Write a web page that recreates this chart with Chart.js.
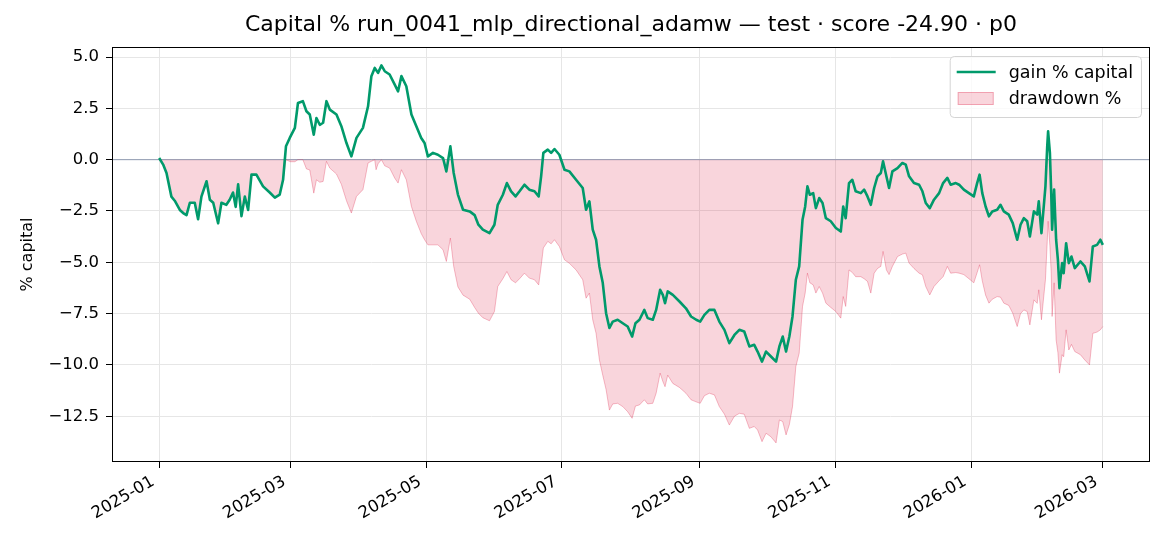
<!DOCTYPE html>
<html>
<head>
<meta charset="utf-8">
<title>Capital % run_0041_mlp_directional_adamw</title>
<script src="https://cdn.jsdelivr.net/npm/chart.js@4.4.1/dist/chart.umd.min.js"></script>
<style>
    html, body { margin: 0; padding: 0; background: #fff; }
    #wrap { width: 1170px; height: 546px; }
</style>
</head>
<body>
<div id="wrap"><canvas id="capitalChart" width="1170" height="546"></canvas></div>
<script>
// Days counted from 2025-01-01 (test period start)
const gainDay = [
    0, 1.8, 3.3, 5.5, 7, 9.3, 10.8, 12.3, 13.8, 16, 17.5, 19, 21.3, 22.8, 24.3, 26.5, 28, 30.2, 31.7, 33.2,
    34.4, 35.5, 37, 38.5, 40, 41.5, 43.7, 46.7, 49.7, 52, 54.2, 55.7, 57, 58.7, 61, 62.4, 64.6, 66.2, 67.7, 69.5,
    70.7, 72.2, 73.7, 75.2, 76.7, 79.7, 81.9, 84.2, 86.4, 88.7, 91.6, 93.9, 95.4, 96.9, 98.4, 99.9, 101.4, 103.6, 105.9, 107.4,
    108.9, 111.1, 113.4, 115.6, 117.8, 119.3, 120.8, 123.1, 125.3, 127.6, 129.1, 130.9, 132.4, 134.3, 136.6, 139.6, 141.8, 143.5, 145.5, 148.5,
    150.7, 152.2, 154.5, 156.3, 158.2, 160.2, 162, 164.2, 166.4, 168.7, 170.6, 171.7, 172.7, 174.7, 176.2, 177.7, 179.9, 182.2, 184.4, 187.4,
    190.4, 191.9, 193.4, 194.9, 196.4, 197.9, 199.4, 200.9, 202.4, 203.9, 206.1, 208.4, 210.6, 212.6, 214.1, 215.9, 218.1, 219.6, 221.9, 223.4,
    225.2, 226.4, 227.4, 228.6, 230.9, 233.9, 236.8, 239.1, 241.4, 243.2, 245.1, 247.3, 249.6, 251.8, 254.1, 256.3, 258.6, 260.8, 263, 265.3,
    267.5, 269, 271, 272.8, 275, 277.3, 278.8, 280.3, 281.8, 283.3, 284.7, 286.2, 287.7, 289.2, 290.4, 291.4, 292.5, 294, 295.2, 296.7,
    298.2, 299.7, 301.9, 304.2, 306.4, 307.5, 308.6, 310.1, 311.6, 313.1, 315.4, 316.9, 318.4, 319.9, 321.4, 322.9, 324.4, 325.4, 326.9, 328.1,
    329.6, 331.9, 334.1, 335.6, 337.1, 339.3, 341.6, 343.1, 344.6, 346.4, 348.3, 350.6, 352.4, 354.3, 355.8, 358.1, 359.6, 361.7, 364, 366.2,
    367.7, 368.8, 370, 371.5, 373, 374.5, 376.7, 378.2, 379.7, 381.9, 383.7, 385.7, 387.2, 388.7, 390.2, 391.4, 393.2, 394.7, 395.4, 396.6,
    397.7, 398.4, 399.2, 399.6, 400.4, 401, 401.4, 402.3, 403.2, 404, 404.7, 405.9, 406.6, 407.7, 408.9, 410.1, 411.6, 414.1, 416.1, 418.2,
    419.7, 421.6, 423.1, 424.2
];
const gainPct = [
    0.08, -0.24, -0.65, -1.8, -2.0, -2.45, -2.6, -2.7, -2.1, -2.1, -2.9, -1.8, -1.05, -1.95, -2.1, -3.1, -2.1, -2.2, -1.95, -1.6,
    -2.3, -1.2, -2.75, -1.8, -2.45, -0.73, -0.73, -1.3, -1.6, -1.85, -1.7, -0.98, 0.65, 1.06, 1.55, 2.76, 2.85, 2.36, 2.2, 1.22,
    2.03, 1.7, 1.8, 2.85, 2.44, 2.2, 1.63, 0.81, 0.16, 1.06, 1.55, 2.6, 4.07, 4.47, 4.23, 4.59, 4.31, 4.15, 3.66, 3.33,
    4.07, 3.58, 2.2, 1.63, 1.06, 0.81, 0.16, 0.33, 0.24, 0.08, -0.57, 0.65, -0.65, -1.7, -2.44, -2.52, -2.7, -3.17, -3.41, -3.58,
    -3.17, -2.2, -1.71, -1.14, -1.54, -1.79, -1.54, -1.22, -1.46, -1.54, -1.79, -0.81, 0.33, 0.49, 0.33, 0.52, 0.24, -0.49, -0.57, -0.98,
    -1.38, -2.44, -2.03, -3.41, -3.9, -5.2, -6.0, -7.48, -8.2, -7.89, -7.8, -7.97, -8.13, -8.62, -7.97, -7.8, -7.32, -7.72, -7.8, -7.32,
    -6.34, -6.59, -6.99, -6.42, -6.59, -6.91, -7.24, -7.64, -7.8, -7.89, -7.56, -7.32, -7.32, -7.89, -8.29, -8.94, -8.54, -8.29, -8.37, -9.1,
    -9.02, -9.35, -9.84, -9.35, -9.59, -9.84, -9.1, -8.62, -9.35, -8.6, -7.64, -5.85, -5.2, -2.93, -2.28, -1.3, -1.71, -1.63, -2.36, -1.87,
    -2.11, -2.85, -3.0, -3.33, -3.5, -2.28, -2.85, -1.14, -0.98, -1.54, -1.63, -1.46, -1.79, -2.2, -1.38, -0.81, -0.65, -0.08, -0.81, -1.38,
    -0.57, -0.41, -0.16, -0.24, -0.81, -1.14, -1.22, -1.54, -2.11, -2.36, -1.95, -1.63, -1.14, -0.89, -1.22, -1.14, -1.22, -1.46, -1.63, -1.79,
    -1.14, -0.73, -1.63, -2.28, -2.76, -2.52, -2.44, -2.2, -2.52, -2.68, -3.09, -3.9, -3.17, -2.85, -3.0, -3.74, -2.52, -2.68, -2.03, -3.58,
    -2.2, -1.3, 0.65, 1.38, 0.33, -1.63, -3.41, -1.46, -3.9, -4.88, -6.26, -5.04, -5.53, -4.07, -5.04, -4.72, -5.28, -4.96, -5.2, -5.93,
    -4.23, -4.15, -3.9, -4.15
];
const ddDay = [
    0, 1.8, 3.3, 5.5, 7, 9.3, 10.8, 12.3, 13.8, 16, 17.5, 19, 21.3, 22.8, 24.3, 26.5, 28, 30.2, 31.7, 33.2,
    34.4, 35.5, 37, 38.5, 40, 41.5, 43.7, 46.7, 49.7, 52, 54.2, 55.7, 57, 59, 61, 62.4, 64.6, 66.2, 67.7, 69.5,
    70.7, 72.2, 73.7, 75.2, 76.7, 79.7, 81.9, 84.2, 86.4, 88.7, 91.6, 93.9, 95.4, 96.9, 97.5, 98.4, 99.9, 101.4, 103.6, 105.9,
    107.4, 108.9, 111.1, 113.4, 115.6, 117.8, 119.3, 120.8, 123.1, 125.3, 127.6, 129.1, 130.9, 132.4, 134.3, 136.6, 139.6, 141.8, 143.5, 145.5,
    148.5, 150.7, 152.2, 154.5, 156.3, 158.2, 160.2, 162, 164.2, 166.4, 168.7, 170.6, 171.7, 172.7, 174.7, 176.2, 177.7, 179.9, 182.2, 184.4,
    187.4, 190.4, 191.9, 193.4, 194.9, 196.4, 197.9, 199.4, 200.9, 202.4, 203.9, 206.1, 208.4, 210.6, 212.6, 214.1, 215.9, 218.1, 219.6, 221.9,
    223.4, 225.2, 226.4, 227.4, 228.6, 230.9, 233.9, 236.8, 239.1, 241.4, 243.2, 245.1, 247.3, 249.6, 251.8, 254.1, 256.3, 258.6, 260.8, 263,
    265.3, 267.5, 269, 271, 272.8, 275, 277.3, 278.8, 280.3, 281.8, 283.3, 284.7, 286.2, 287.7, 289.2, 290.4, 291.4, 292.5, 294, 295.2,
    296.7, 298.2, 299.7, 301.9, 304.2, 306.4, 307.5, 308.6, 310.1, 311.6, 313.1, 315.4, 316.9, 318.4, 319.9, 321.4, 322.9, 324.4, 325.4, 326.9,
    328.1, 329.6, 331.9, 334.1, 335.6, 337.1, 339.3, 341.6, 343.1, 344.6, 346.4, 348.3, 350.6, 352.4, 354.3, 355.8, 358.1, 359.6, 361.7, 364,
    366.2, 367.7, 368.8, 370, 371.5, 373, 374.5, 376.7, 378.2, 379.7, 381.9, 383.7, 385.7, 387.2, 388.7, 390.2, 391.4, 393.2, 394.7, 395.4,
    396.6, 397.7, 398.4, 399.2, 399.6, 400.4, 401, 401.4, 402.3, 403.2, 404, 404.7, 405.9, 406.6, 407.7, 408.9, 410.1, 411.6, 414.1, 416.1,
    418.2, 419.7, 421.6, 423.1, 424.2
];
const ddPct = [
    0, -0.24, -0.65, -1.8, -2.0, -2.45, -2.6, -2.7, -2.1, -2.1, -2.9, -1.8, -1.05, -1.95, -2.1, -3.1, -2.1, -2.2, -1.95, -1.6,
    -2.3, -1.2, -2.75, -1.8, -2.45, -0.73, -0.73, -1.3, -1.6, -1.85, -1.7, -0.98, 0, -0.1, -0.1, 0, 0, -0.45, -0.5, -1.63,
    -0.98, -1.1, -1.06, -0.08, -0.41, -0.7, -1.2, -2.0, -2.6, -1.79, -1.46, -0.16, -0.08, 0, -0.49, -0.2, 0, -0.3, -0.41, -0.9,
    -1.14, -0.49, -0.98, -2.28, -3.0, -3.6, -3.9, -4.15, -4.15, -4.15, -4.39, -4.96, -3.82, -5.2, -6.2, -6.6, -6.8, -7.2, -7.48, -7.7,
    -7.85, -7.4, -6.18, -5.8, -5.45, -5.85, -6.0, -5.8, -5.53, -5.77, -5.85, -6.1, -5.2, -4.3, -3.98, -4.1, -3.9, -4.23, -4.88, -5.05,
    -5.37, -5.85, -6.75, -6.5, -7.8, -8.46, -9.76, -10.5, -11.2, -12.2, -11.9, -11.87, -12.03, -12.28, -12.6, -12.0, -11.95, -11.7, -11.9, -11.87,
    -11.38, -10.4, -10.8, -11.06, -10.5, -10.9, -11.1, -11.38, -11.7, -11.8, -11.87, -11.5, -11.38, -11.46, -12.03, -12.4, -12.93, -12.5, -12.36, -12.4,
    -13.09, -13.0, -13.17, -13.74, -13.33, -13.5, -13.8, -12.68, -12.76, -13.41, -12.9, -12.03, -10.08, -9.43, -7.15, -6.5, -5.53, -6.0, -6.1, -6.5,
    -6.18, -6.5, -6.99, -7.2, -7.4, -7.72, -6.67, -7.15, -5.37, -5.5, -5.7, -5.7, -5.8, -5.93, -6.5, -5.53, -5.3, -5.2, -4.47, -5.37,
    -5.6, -5.2, -4.72, -4.6, -4.55, -5.04, -5.3, -5.53, -5.61, -6.18, -6.59, -6.18, -5.9, -5.7, -5.2, -5.53, -5.5, -5.53, -5.6, -5.8,
    -6.0, -5.5, -5.12, -5.9, -6.6, -6.99, -6.8, -6.67, -6.7, -6.99, -7.1, -7.48, -8.13, -7.5, -7.32, -7.4, -8.05, -6.83, -7.0, -6.34,
    -7.8, -6.6, -5.85, -4.0, -3.0, -4.2, -5.53, -7.64, -6.0, -8.78, -9.4, -10.4, -9.5, -9.6, -8.29, -9.27, -9.0, -9.35, -9.5, -9.76,
    -10.0, -8.46, -8.4, -8.29, -8.13
];

// Month ticks on the x axis (days from 2025-01-01)
const monthTickDay = [0, 59, 120, 181, 243, 304, 365, 424];
const monthTickLabel = ['2025-01', '2025-03', '2025-05', '2025-07', '2025-09', '2025-11', '2026-01', '2026-03'];
const yTickValues = [-12.5, -10, -7.5, -5, -2.5, 0, 2.5, 5];

const titleText = 'Capital % run_0041_mlp_directional_adamw \u2014 test \u00b7 score -24.90 \u00b7 p0';
const gainLabel = 'gain % capital';
const ddLabel = 'drawdown %';

const FONT = '"DejaVu Sans", "Liberation Sans", sans-serif';
const GREEN = '#009a6b';
const PINK_FILL = 'rgba(220, 20, 60, 0.18)';
const PINK_EDGE = 'rgba(220, 20, 60, 0.28)';

Chart.defaults.font.family = FONT;
Chart.defaults.color = '#000';

function toPoints(xs, ys) {
    return xs.map((x, i) => ({ x: x, y: ys[i] }));
}

function formatTick(v) {
    return v.toFixed(1).replace('-', '\u2212');
}

// Title centred over the plot area (matplotlib style)
const axesTitlePlugin = {
    id: 'axesTitle',
    afterDraw(chart) {
        const { ctx, chartArea } = chart;
        ctx.save();
        ctx.font = '22px ' + FONT;
        ctx.fillStyle = '#000';
        ctx.textAlign = 'center';
        ctx.textBaseline = 'middle';
        ctx.fillText(titleText, (chartArea.left + chartArea.right) / 2, chartArea.top - 22);
        ctx.restore();
    }
};

// Zero line behind the series
const zeroLinePlugin = {
    id: 'zeroLine',
    beforeDatasetsDraw(chart) {
        const { ctx, chartArea } = chart;
        const y = chart.scales.y.getPixelForValue(0);
        ctx.save();
        ctx.strokeStyle = 'rgba(112, 128, 160, 0.75)';
        ctx.lineWidth = 1;
        ctx.beginPath();
        ctx.moveTo(chartArea.left, y);
        ctx.lineTo(chartArea.right, y);
        ctx.stroke();
        ctx.restore();
    }
};

// Full box around the plot, like matplotlib spines
const framePlugin = {
    id: 'frame',
    afterDatasetsDraw(chart) {
        const { ctx, chartArea } = chart;
        ctx.save();
        ctx.strokeStyle = '#000';
        ctx.lineWidth = 1;
        ctx.strokeRect(chartArea.left + 0.5, chartArea.top + 0.5,
            chartArea.right - chartArea.left - 1, chartArea.bottom - chartArea.top - 1);
        ctx.restore();
    }
};

// Legend box in the upper right corner of the plot
const boxLegendPlugin = {
    id: 'boxLegend',
    afterDraw(chart) {
        const { ctx, chartArea } = chart;
        ctx.save();
        ctx.font = '17.5px ' + FONT;
        const textW = Math.max(ctx.measureText(gainLabel).width, ctx.measureText(ddLabel).width);
        const boxW = 7 + 39 + 13 + textW + 8;
        const boxH = 61;
        const right = chartArea.right - 9;
        const top = chartArea.top + 9;
        const left = right - boxW;

        ctx.beginPath();
        ctx.roundRect(left + 0.5, top + 0.5, boxW, boxH, 4);
        ctx.fillStyle = 'rgba(255, 255, 255, 0.8)';
        ctx.fill();
        ctx.strokeStyle = '#d4d4d4';
        ctx.lineWidth = 1;
        ctx.stroke();

        const row1 = top + 16;
        const row2 = top + 42.5;
        ctx.strokeStyle = GREEN;
        ctx.lineWidth = 2.6;
        ctx.beginPath();
        ctx.moveTo(left + 7, row1);
        ctx.lineTo(left + 46, row1);
        ctx.stroke();

        ctx.fillStyle = PINK_FILL;
        ctx.fillRect(left + 8, row2 - 6.5, 36, 13);
        ctx.strokeStyle = PINK_EDGE;
        ctx.lineWidth = 1;
        ctx.strokeRect(left + 8.5, row2 - 6, 35, 12);

        ctx.fillStyle = '#000';
        ctx.textBaseline = 'middle';
        ctx.textAlign = 'left';
        ctx.fillText(gainLabel, left + 59, row1 + 1);
        ctx.fillText(ddLabel, left + 59, row2 + 1);
        ctx.restore();
    }
};

const ctx = document.getElementById('capitalChart').getContext('2d');
const capitalChart = new Chart(ctx, {
    type: 'line',
    data: {
        datasets: [{
            label: gainLabel,
            data: toPoints(gainDay, gainPct),
            borderColor: GREEN,
            borderWidth: 2.6,
            pointRadius: 0,
            tension: 0,
            fill: false,
            borderJoinStyle: 'round'
        }, {
            label: ddLabel,
            data: toPoints(ddDay, ddPct),
            borderColor: PINK_EDGE,
            backgroundColor: PINK_FILL,
            borderWidth: 1,
            pointRadius: 0,
            tension: 0,
            fill: { value: 0 }
        }]
    },
    options: {
        responsive: false,
        devicePixelRatio: 1,
        animation: false,
        events: [],
        layout: { padding: { left: 0, right: 20, top: 47, bottom: 0 } },
        plugins: {
            legend: { display: false },
            tooltip: { enabled: false },
            title: { display: false }
        },
        scales: {
            x: {
                type: 'linear',
                min: -21.2,
                max: 445.4,
                afterFit(scale) { scale.height = 84; },
                afterBuildTicks(scale) {
                    scale.ticks = monthTickDay.map(v => ({ value: v }));
                },
                ticks: {
                    autoSkip: false,
                    minRotation: 30,
                    maxRotation: 30,
                    padding: 4,
                    labelOffset: -6,
                    font: { size: 16.5 },
                    color: '#000',
                    callback(value) {
                        const i = monthTickDay.indexOf(value);
                        return i >= 0 ? monthTickLabel[i] : '';
                    }
                },
                grid: {
                    color: '#e6e6e6',
                    tickColor: '#000',
                    tickLength: 6,
                    lineWidth: 1
                },
                border: { display: false }
            },
            y: {
                min: -14.73,
                max: 5.49,
                afterFit(scale) { scale.width = 112; },
                afterBuildTicks(scale) {
                    scale.ticks = yTickValues.map(v => ({ value: v }));
                },
                ticks: {
                    padding: 7,
                    font: { size: 16.5 },
                    color: '#000',
                    callback(value) { return formatTick(value); }
                },
                title: {
                    display: true,
                    text: '% capital',
                    color: '#000',
                    font: { size: 16 },
                    padding: { top: 18, bottom: 0 }
                },
                grid: {
                    color: '#e6e6e6',
                    tickColor: '#000',
                    tickLength: 6,
                    lineWidth: 1
                },
                border: { display: false }
            }
        }
    },
    plugins: [zeroLinePlugin, framePlugin, boxLegendPlugin, axesTitlePlugin]
});
</script>
</body>
</html>
